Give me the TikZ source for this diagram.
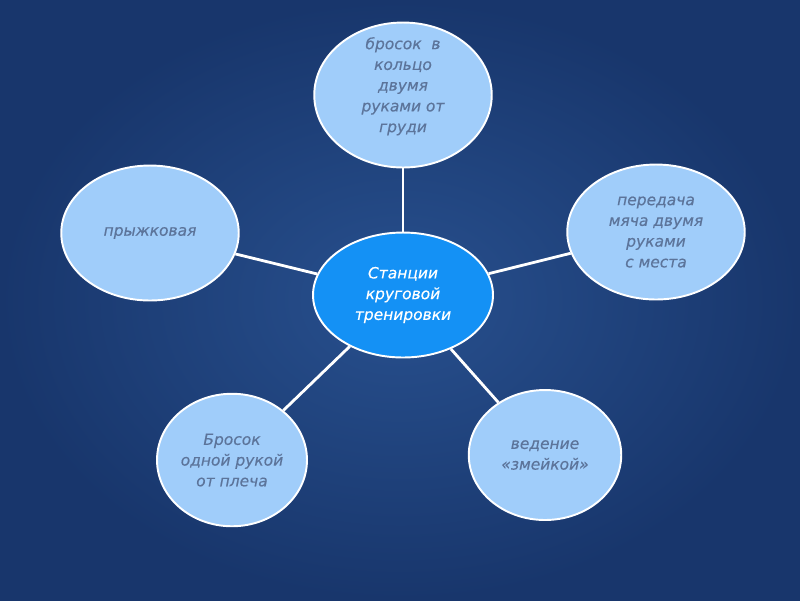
\documentclass[tikz,border=0pt]{standalone}
\usepackage{fontspec}
\setmainfont{DejaVu Sans}
\usepackage{xcolor}
\usepackage{tikz}
\usetikzlibrary{shapes.geometric}

\definecolor{bgdark}{RGB}{24,54,108}
\definecolor{bglight}{RGB}{40,80,142}
\definecolor{hubblue}{RGB}{20,145,245}
\definecolor{outerblue}{RGB}{160,205,250}
\definecolor{outertext}{RGB}{92,116,154}

\begin{document}
\begin{tikzpicture}[
  x=0.02cm, y=-0.02cm,
  station/.style={ellipse, draw=white, line width=1.1pt, fill=outerblue,
    inner sep=0pt, align=center, text=outertext,
    font=\fontsize{8.8}{11.8}\selectfont\itshape\addfontfeature{FakeBold=0.4}},
  hub/.style={station, fill=hubblue, text=white},
  link/.style={draw=white, line width=1.6pt}
]
  \shade[inner color=bglight, outer color=bgdark] (0,0) rectangle (800,600);
  \useasboundingbox (0,0) rectangle (800,600);

  \node[hub, minimum width=3.6cm, minimum height=2.5cm]
    (hub) at (403,295) {Станции\\круговой\\тренировки};

  \node[station, inner ysep=-12pt, minimum width=3.55cm, minimum height=2.9cm]
    (chest) at (403,95) {бросок \ в\\кольцо\\двумя\\руками от\\груди\\ \mbox{}};
  \node[station, minimum width=3.55cm, minimum height=2.7cm]
    (pass) at (656,232) {передача\\мяча двумя\\руками\\с места};
  \node[station, minimum width=3.55cm, minimum height=2.7cm]
    (jump) at (150,233) {прыжковая};
  \node[station, minimum width=3.0cm, minimum height=2.65cm]
    (shoulder) at (232,460) {Бросок\\одной рукой\\от плеча};
  \node[station, minimum width=3.05cm, minimum height=2.6cm]
    (snake) at (545,455) {ведение\\«змейкой»};

  \foreach \st in {chest,pass,jump,shoulder,snake}
    \draw[link] (hub) -- (\st);
\end{tikzpicture}
\end{document}
